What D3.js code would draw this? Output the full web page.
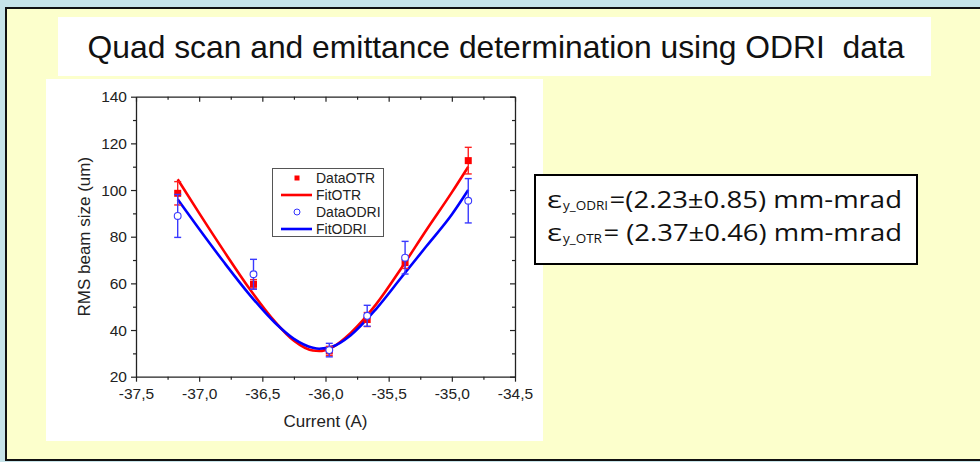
<!DOCTYPE html>
<html>
<head>
<meta charset="utf-8">
<script src="https://cdn.jsdelivr.net/npm/d3@7/dist/d3.min.js"></script>
<style>
  html, body { margin: 0; padding: 0; background: #c6e3e9; }
  svg { display: block; }
</style>
</head>
<body>
<svg id="slide" width="980" height="462"></svg>
<script>
// Quad scan measurements: beam size vs quadrupole current
const currents = [-37.17, -36.57, -35.97, -35.67, -35.37, -34.87];
const otrSize  = [98.6, 59.6, 31.0, 44.5, 68.9, 112.6];
const otrErr   = [5.0, 2.0, 2.0, 3.0, 2.5, 5.7];
const odriSize = [88.9, 63.9, 31.4, 46.1, 71.0, 95.4];
const odriErr  = [9.2, 6.4, 2.9, 4.5, 7.0, 9.5];

// Fitted beam size curves
const fitCurrent = [-37.17, -37.0, -36.8, -36.6, -36.4, -36.25, -36.1, -36.05, -35.95, -35.8, -35.6, -35.4, -35.2, -35.0, -34.87];
const fitOTR     = [104.6, 90.1, 73.5, 57.6, 43.6, 35.4, 31.2, 31.0, 32.5, 38.8, 51.0, 66.5, 83.0, 99.0, 110.0];
const fitODRI    = [96.0, 83.3, 68.8, 55.1, 43.1, 36.2, 32.4, 32.0, 32.8, 37.8, 49.0, 62.5, 76.0, 89.5, 100.0];

// Axis ticks
const xMajor = [-37.5, -37.0, -36.5, -36.0, -35.5, -35.0, -34.5];
const xMinor = [-37.25, -36.75, -36.25, -35.75, -35.25, -34.75];
const yMajor = [20, 40, 60, 80, 100, 120, 140];
const yMinor = [30, 50, 70, 90, 110, 130];

const legendItems = [
  { label: "DataOTR",  kind: "square", color: "#ff0000" },
  { label: "FitOTR",   kind: "line",   color: "#ff0000" },
  { label: "DataODRI", kind: "circle", color: "#3333ff" },
  { label: "FitODRI",  kind: "line",   color: "#0000ff" }
];

// Emittance results
const resultSubs  = ["y_ODRI", "y_OTR"];
const resultTexts = ["=(2.23\u00b10.85) mm-mrad", "= (2.37\u00b10.46) mm-mrad"];

const titleText = "Quad scan and emittance determination using ODRI  data";

const svg = d3.select("#slide");

// Slide frame
svg.append("rect").attr("x", 6).attr("y", 8).attr("width", 990).attr("height", 452)
  .attr("fill", "#fcffcc").attr("stroke", "#111").attr("stroke-width", 2);

// Title panel
svg.append("rect").attr("x", 58).attr("y", 17).attr("width", 873).attr("height", 59).attr("fill", "#ffffff");
svg.append("text").attr("x", 496).attr("y", 58).attr("text-anchor", "middle")
  .attr("font-family", "Liberation Sans, Arial, sans-serif").attr("font-size", 32)
  .attr("textLength", 817).attr("lengthAdjust", "spacingAndGlyphs")
  .attr("fill", "#111").style("white-space", "pre").text(titleText);

// Chart panel
svg.append("rect").attr("x", 46).attr("y", 79).attr("width", 497).attr("height", 362).attr("fill", "#ffffff");

const x = d3.scaleLinear().domain([-37.5, -34.5]).range([136, 515]);
const y = d3.scaleLinear().domain([20, 140]).range([376.7, 96.7]);

const fmt = v => d3.format(".1f")(v).replace(".", ",").replace("\u2212", "-");
const font = "Liberation Sans, Arial, sans-serif";
const axisColor = "#222";

function styleAxis(g) {
  g.selectAll("path.domain").attr("stroke", axisColor).attr("stroke-width", 1.3);
  g.selectAll(".tick line").attr("stroke", axisColor).attr("stroke-width", 1.2);
  g.selectAll(".tick text").attr("fill", "#222").attr("font-family", font).attr("font-size", 15.5);
}

// Bottom axis (ticks outward)
const gB = svg.append("g").attr("transform", `translate(0,${y(20)})`)
  .call(d3.axisBottom(x).tickValues(xMajor).tickFormat(fmt).tickSizeInner(5).tickSizeOuter(0).tickPadding(6));
styleAxis(gB);
const gBm = svg.append("g").attr("transform", `translate(0,${y(20)})`)
  .call(d3.axisBottom(x).tickValues(xMinor).tickFormat("").tickSizeInner(3).tickSizeOuter(0));
styleAxis(gBm); gBm.select("path.domain").remove();

// Left axis (ticks outward)
const gL = svg.append("g").attr("transform", `translate(${x(-37.5)},0)`)
  .call(d3.axisLeft(y).tickValues(yMajor).tickFormat(d3.format("d")).tickSizeInner(5).tickSizeOuter(0).tickPadding(4));
styleAxis(gL);
const gLm = svg.append("g").attr("transform", `translate(${x(-37.5)},0)`)
  .call(d3.axisLeft(y).tickValues(yMinor).tickFormat("").tickSizeInner(3).tickSizeOuter(0));
styleAxis(gLm); gLm.select("path.domain").remove();

// Top axis (ticks into the plot)
const gT = svg.append("g").attr("transform", `translate(0,${y(140)})`)
  .call(d3.axisTop(x).tickValues(xMajor).tickFormat("").tickSizeInner(-5).tickSizeOuter(0));
styleAxis(gT);
const gTm = svg.append("g").attr("transform", `translate(0,${y(140)})`)
  .call(d3.axisTop(x).tickValues(xMinor).tickFormat("").tickSizeInner(-3).tickSizeOuter(0));
styleAxis(gTm); gTm.select("path.domain").remove();

// Right axis (ticks into the plot)
const gR = svg.append("g").attr("transform", `translate(${x(-34.5)},0)`)
  .call(d3.axisRight(y).tickValues(yMajor).tickFormat("").tickSizeInner(-5).tickSizeOuter(0));
styleAxis(gR);
const gRm = svg.append("g").attr("transform", `translate(${x(-34.5)},0)`)
  .call(d3.axisRight(y).tickValues(yMinor).tickFormat("").tickSizeInner(-3).tickSizeOuter(0));
styleAxis(gRm); gRm.select("path.domain").remove();

// Axis titles
svg.append("text").attr("x", (x(-37.5) + x(-34.5)) / 2).attr("y", 427).attr("text-anchor", "middle")
  .attr("font-family", font).attr("font-size", 17).attr("fill", "#222").text("Current (A)");
svg.append("text").attr("transform", `translate(90,${(y(20) + y(140)) / 2}) rotate(-90)`)
  .attr("text-anchor", "middle").attr("font-family", font).attr("font-size", 17).attr("fill", "#222")
  .text("RMS beam size (um)");

// Fit curves
const line = d3.line().x(d => x(d[0])).y(d => y(d[1])).curve(d3.curveMonotoneX);
svg.append("path").datum(fitCurrent.map((c, i) => [c, fitOTR[i]]))
  .attr("d", line).attr("fill", "none").attr("stroke", "#ff0000").attr("stroke-width", 2.6);
svg.append("path").datum(fitCurrent.map((c, i) => [c, fitODRI[i]]))
  .attr("d", line).attr("fill", "none").attr("stroke", "#0000ff").attr("stroke-width", 2.6);

// Error bars
function errorBars(values, errs, color) {
  const g = svg.append("g").attr("stroke", color).attr("stroke-width", 1.4);
  currents.forEach((c, i) => {
    const cx = x(c), top = y(values[i] + errs[i]), bot = y(values[i] - errs[i]);
    g.append("line").attr("x1", cx).attr("x2", cx).attr("y1", top).attr("y2", bot);
    g.append("line").attr("x1", cx - 3.5).attr("x2", cx + 3.5).attr("y1", top).attr("y2", top);
    g.append("line").attr("x1", cx - 3.5).attr("x2", cx + 3.5).attr("y1", bot).attr("y2", bot);
  });
}

errorBars(otrSize, otrErr, "#ff2020");
svg.append("g").selectAll("rect").data(currents).join("rect")
  .attr("x", (c) => x(c) - 3.5).attr("y", (c, i) => y(otrSize[i]) - 3.5)
  .attr("width", 7).attr("height", 7).attr("fill", "#ff0000");

errorBars(odriSize, odriErr, "#3a3aff");
svg.append("g").selectAll("circle").data(currents).join("circle")
  .attr("cx", c => x(c)).attr("cy", (c, i) => y(odriSize[i])).attr("r", 3.4)
  .attr("fill", "#ffffff").attr("stroke", "#3a3aff").attr("stroke-width", 1.1);

// Legend
const lg = svg.append("g");
lg.append("rect").attr("x", 272.5).attr("y", 168.5).attr("width", 111).attr("height", 68)
  .attr("fill", "#ffffff").attr("stroke", "#555").attr("stroke-width", 1);
legendItems.forEach((it, i) => {
  const cy = 178 + i * 17;
  if (it.kind === "square") {
    lg.append("rect").attr("x", 294.5).attr("y", cy - 2.5).attr("width", 5).attr("height", 5).attr("fill", it.color);
  } else if (it.kind === "circle") {
    lg.append("circle").attr("cx", 297).attr("cy", cy).attr("r", 3).attr("fill", "#fff")
      .attr("stroke", it.color).attr("stroke-width", 1);
  } else {
    lg.append("line").attr("x1", 281).attr("x2", 312).attr("y1", cy).attr("y2", cy)
      .attr("stroke", it.color).attr("stroke-width", 2.6);
  }
  lg.append("text").attr("x", 316).attr("y", cy + 5).attr("font-family", font).attr("font-size", 14)
    .attr("fill", "#222").text(it.label);
});

// Emittance results box
const eq = svg.append("g");
eq.append("rect").attr("x", 535).attr("y", 175).attr("width", 382).attr("height", 89)
  .attr("fill", "#ffffff").attr("stroke", "#000").attr("stroke-width", 2);
const eqFont = "'Open Sans', Lato, sans-serif";
const baselines = [208, 241];
resultTexts.forEach((txt, i) => {
  const yb = baselines[i];
  eq.append("text").attr("x", 547).attr("y", yb).attr("font-family", eqFont)
    .attr("font-size", 24).attr("fill", "#111")
    .attr("textLength", 15).attr("lengthAdjust", "spacingAndGlyphs").text("\u03b5");
  const sub = eq.append("text").attr("x", 563).attr("y", yb + 2).attr("font-family", eqFont)
    .attr("font-size", 13.5).attr("fill", "#111").text(resultSubs[i]);
  const start = 563 + sub.node().getComputedTextLength() + 1.5;
  eq.append("text").attr("x", start).attr("y", yb).attr("font-family", eqFont)
    .attr("font-size", 23).attr("fill", "#111")
    .attr("textLength", 902 - start).attr("lengthAdjust", "spacingAndGlyphs")
    .style("white-space", "pre").text(txt);
});
</script>
</body>
</html>
